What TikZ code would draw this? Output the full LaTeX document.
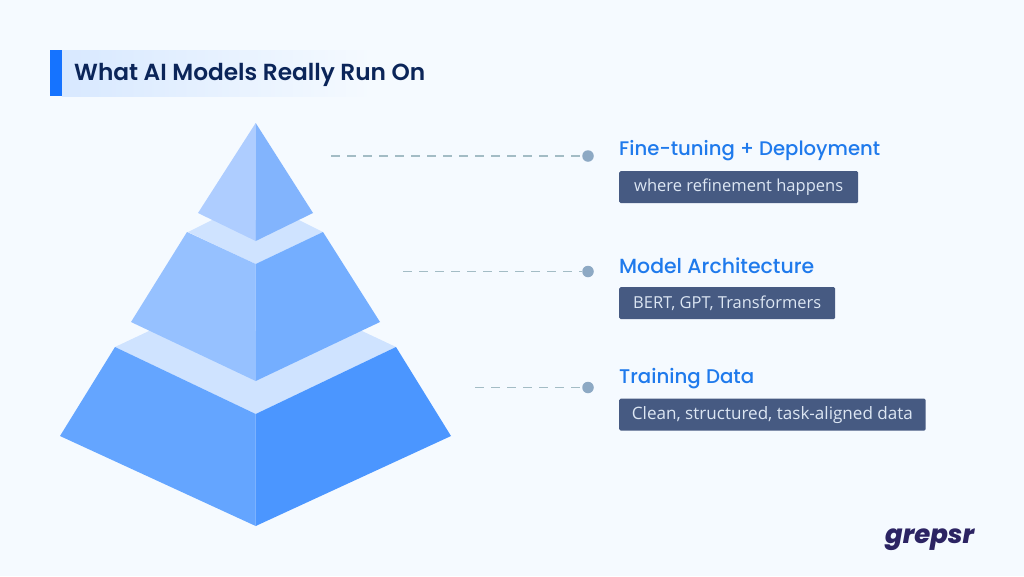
\documentclass[tikz,border=0pt]{standalone}
\usepackage{fontspec}
\setmainfont{Open Sans}
\newfontfamily\logofont[BoldFont={Poppins ExtraBold},BoldItalicFont={Poppins ExtraBold Italic}]{Poppins}
\newfontfamily\titlefont[BoldFont={Poppins SemiBold}]{Poppins}
\newfontfamily\headfont{Poppins Medium}
\usetikzlibrary{shadings}
\definecolor{bgc}{HTML}{F5FAFF}
\definecolor{barc}{HTML}{1573FF}
\definecolor{titlec}{HTML}{0B2559}
\definecolor{bandc}{HTML}{CFE3FF}
\definecolor{topl}{HTML}{AECDFF}
\definecolor{topr}{HTML}{82B4FD}
\definecolor{midl}{HTML}{96C1FF}
\definecolor{midr}{HTML}{74AEFF}
\definecolor{botl}{HTML}{64A5FF}
\definecolor{botr}{HTML}{4B96FF}
\definecolor{headc}{HTML}{1F7AEC}
\definecolor{badgec}{HTML}{465A82}
\definecolor{badgetext}{HTML}{DCE6F3}
\definecolor{dashc}{HTML}{A3BCC5}
\definecolor{dotc}{HTML}{8DA9C4}
\definecolor{logoc}{HTML}{2C2463}
\newcommand{\fitw}[3]{\resizebox{#1pt}{!}{\fontsize{#2}{#2}\selectfont #3}}
\tikzset{
  x=1pt,y=-1pt,
  heading/.style={anchor=base west,inner sep=0pt,text=headc},
  badge/.style={anchor=north west,fill=badgec,rounded corners=1.5pt,minimum height=32pt,inner sep=0pt,text=badgetext},
  leader/.style={draw=dashc,line width=1.2pt,dash pattern=on 9pt off 7pt},
  dotnode/.style={circle,fill=dotc,minimum size=11.5pt,inner sep=0pt},
}
\begin{document}
\begin{tikzpicture}
\useasboundingbox (0,0) rectangle (1024,576);
\fill[bgc] (0,0) rectangle (1024,576);
% title
\shade[left color=barc!13!bgc,right color=bgc,shading angle=90] (62,50) rectangle (372,96);
\fill[barc] (50,50) rectangle (62,96);
\node[anchor=base west,inner sep=0pt,text=titlec] (title) at (74,80)
  {\fitw{351}{22}{\titlefont\bfseries What AI Models Really Run On}};
% bands
\fill[bandc] (188,232) -- (212,220) -- (299,220) -- (323,232) -- (255.7,264) -- cycle;
\fill[bandc] (115,347) -- (149,331) -- (362,331) -- (396,347) -- (255.7,414) -- cycle;
% top
\fill[topl] (255.7,123) -- (198,213) -- (255.7,241) -- cycle;
\fill[topr] (255.7,123) -- (313,213) -- (255.7,241) -- cycle;
% middle
\fill[midl] (187,232) -- (255.7,264) -- (255.7,381) -- (131,322) -- cycle;
\fill[midr] (323,232) -- (255.7,264) -- (255.7,381) -- (380,322) -- cycle;
% bottom
\fill[botl] (115,347) -- (255.7,414) -- (255.7,526) -- (60,436) -- cycle;
\fill[botr] (396,347) -- (255.7,414) -- (255.7,526) -- (451,436) -- cycle;
% leaders
\coordinate (s1) at (331,156);
\coordinate (s2) at (403,271.5);
\coordinate (s3) at (475,387.5);
\node[dotnode] (d1) at (588,156) {};
\node[dotnode] (d2) at (588,271.5) {};
\node[dotnode] (d3) at (588,387.5) {};
\draw[leader] (s1) -- (d1);
\draw[leader] (s2) -- (d2);
\draw[leader] (s3) -- (d3);
% labels
\node[heading] (h1) at (619,155.5) {\fitw{261}{19}{\headfont Fine-tuning + Deployment}};
\node[heading] (h2) at (619,273.5) {\fitw{195}{19}{\headfont Model Architecture}};
\node[heading] (h3) at (619,383.5) {\fitw{135}{19}{\headfont Training Data}};
\node[badge,minimum width=239pt] (b1) at (619,171) {\fitw{209}{16}{where refinement happens}};
\node[badge,minimum width=216pt] (b2) at (619,287) {\fitw{188}{16}{BERT, GPT, Transformers}};
\node[badge,minimum width=306.5pt] (b3) at (619,398.5) {\fitw{281}{16}{Clean, structured, task-aligned data}};
% logo
\node[anchor=base west,inner sep=0pt,text=logoc] (logo) at (885,543)
  {\fitw{89}{28}{\logofont\bfseries\itshape grepsr}};
\end{tikzpicture}
\end{document}
